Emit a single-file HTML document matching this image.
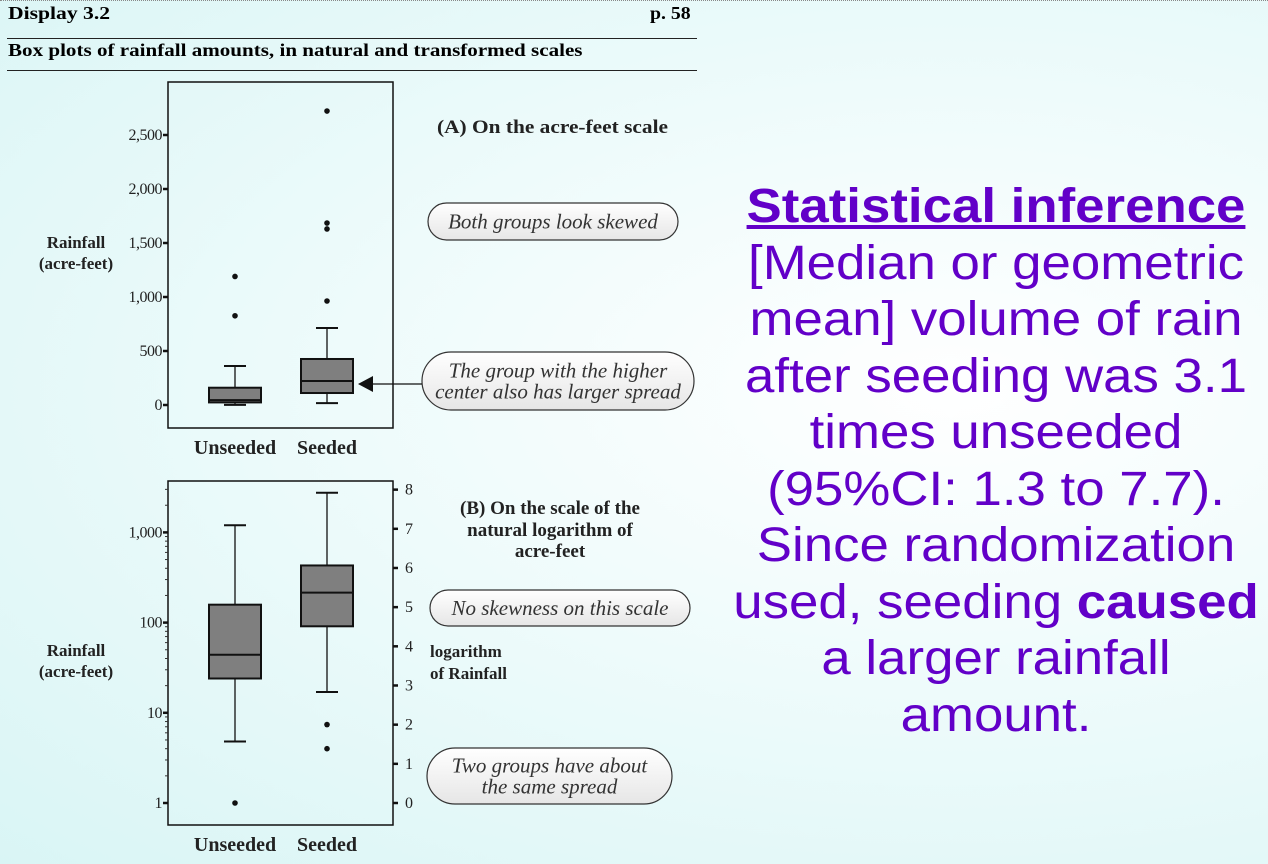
<!DOCTYPE html>
<html><head><meta charset="utf-8"><style>
html,body{margin:0;padding:0}
body{width:1268px;height:864px;overflow:hidden;position:relative;background:radial-gradient(ellipse at 75% 45%,#ffffff 0%,#eefbfb 45%,#d9f5f5 100%);font-family:"Liberation Serif",serif}
.t{position:absolute;white-space:nowrap;transform-origin:0 0}
.b{font-weight:bold}
#right{position:absolute;left:716px;top:179px;width:560px;text-align:center;font-family:"Liberation Sans",sans-serif;font-size:48px;line-height:56.5px;color:#6200c8}
#right div{white-space:nowrap;transform:scaleX(1.1)}
</style></head><body>
<div style="position:absolute;left:0;top:0;width:1268px;border-top:1px dotted #888"></div>
<div class="t b" style="left:8px;top:3px;font-size:18px;transform:scaleX(1.2)">Display 3.2</div>
<div class="t b" style="left:650px;top:3px;font-size:18px;transform:scaleX(1.1)">p. 58</div>
<div style="position:absolute;left:7px;top:38px;width:690px;border-top:1px solid #222"></div>
<div class="t b" style="left:8px;top:40px;font-size:18px;transform:scaleX(1.17)">Box plots of rainfall amounts, in natural and transformed scales</div>
<div style="position:absolute;left:7px;top:70px;width:690px;border-top:1px solid #222"></div>

<svg id="chart" width="1268" height="864" style="position:absolute;left:0;top:0" font-family="Liberation Serif, serif">
<defs><linearGradient id="pill" x1="0" y1="0" x2="0" y2="1"><stop offset="0" stop-color="#ffffff"/><stop offset="1" stop-color="#e6e6e6"/></linearGradient></defs>
<g id="gA"></g><g id="gB"></g><g id="ann"></g>
</svg>

<div id="right">
<div style="font-weight:bold;text-decoration:underline">Statistical inference</div>
<div>[Median or geometric</div>
<div>mean] volume of rain</div>
<div>after seeding was 3.1</div>
<div>times unseeded</div>
<div>(95%CI: 1.3 to 7.7).</div>
<div>Since randomization</div>
<div>used, seeding <b>caused</b></div>
<div>a larger rainfall</div>
<div>amount.</div>
</div>

<script>
const groups = ["Unseeded","Seeded"];
// panel A (acre-feet): [lowWhisker, q1, median, q3, highWhisker]
const statsA = [[1, 24, 45, 160, 361],[17, 111, 222, 426, 713]];
const outliersA = [[826, 1190],[963, 1630, 1685, 2722]];
const ticksA = [0,500,1000,1500,2000,2500];
const tickLabelsA = ["0","500","1,000","1,500","2,000","2,500"];
// panel B (log scale)
const statsB = [[4.8, 24, 44, 158, 1200],[17, 91, 215, 430, 2750]];
const outliersB = [[1],[4.0, 7.4]];
const ticksB = [1,10,100,1000];
const tickLabelsB = ["1","10","100","1,000"];
const lnTicks = [0,1,2,3,4,5,6,7,8];

const NS="http://www.w3.org/2000/svg";
function mk(parent,tag,attrs,txt){const e=document.createElementNS(NS,tag);for(const k in attrs)e.setAttribute(k,attrs[k]);if(txt!==undefined)e.textContent=txt;parent.appendChild(e);return e;}
const xPos = i => 235 + i*92;
const yA = v => 405 - v*0.108;
const yB = v => 803 - Math.log10(v)*90.2;
const yLn = v => 803 - v*39.17;

function panel(g, top, bottom, stats, outs, yf, ticks, labels, pname, ty){
  const f=mk(g,'rect',{x:168,y:top,width:225,height:bottom-top,fill:'none',stroke:'#111','stroke-width':1.5});
  
  
  ticks.forEach((t,i)=>{
    const y=yf(t);
    const tk=mk(g,'line',{x1:163,x2:168,y1:y,y2:y,stroke:'#111','stroke-width':2.5});
    
    
    const tl=mk(g,'text',{x:162,y:y+5,'text-anchor':'end','font-size':16,fill:'#222','letter-spacing':'-0.5'},labels[i]);
    
    
  });
  stats.forEach((s,i)=>{
    const cx=xPos(i), w=26;
    const grp=mk(g,'g',{});
    
    
    mk(grp,'line',{x1:cx,x2:cx,y1:yf(s[0]),y2:yf(s[4]),stroke:'#111','stroke-width':1.3});
    mk(grp,'line',{x1:cx-11,x2:cx+11,y1:yf(s[0]),y2:yf(s[0]),stroke:'#111','stroke-width':2});
    mk(grp,'line',{x1:cx-11,x2:cx+11,y1:yf(s[4]),y2:yf(s[4]),stroke:'#111','stroke-width':2});
    mk(grp,'rect',{x:cx-w,y:yf(s[3]),width:2*w,height:yf(s[1])-yf(s[3]),fill:'#7f7f7f',stroke:'#111','stroke-width':2});
    mk(grp,'line',{x1:cx-w,x2:cx+w,y1:yf(s[2]),y2:yf(s[2]),stroke:'#111','stroke-width':2});
    outs[i].forEach(o=>{
      const d=mk(g,'circle',{cx:cx,cy:yf(o),r:2.8,fill:'#111'});
      
      
    });
    const xl=mk(g,'text',{x:cx,y:bottom+26,'text-anchor':'middle','font-size':20,'font-weight':'bold',fill:'#222'},groups[i]);
    
    
  });
  const t1=mk(g,'text',{x:76,y:ty,'text-anchor':'middle','font-size':17,'font-weight':'bold',fill:'#222'},'Rainfall');
  
  
  const t2=mk(g,'text',{x:76,y:ty+21,'text-anchor':'middle','font-size':17,'font-weight':'bold',fill:'#222'},'(acre-feet)');
  
  
}
const gA=document.getElementById('gA'), gB=document.getElementById('gB');
panel(gA,82,428,statsA,outliersA,yA,ticksA,tickLabelsA,'a',248);
panel(gB,481,825,statsB,outliersB,yB,ticksB,tickLabelsB,'b',656);
// minor log ticks
for(let d=0; d<4; d++){ for(let m=2;m<=9;m++){ const v=m*Math.pow(10,d); if(v>3000) continue;
  const mt=mk(gB,'line',{x1:165,x2:168,y1:yB(v),y2:yB(v),stroke:'#333','stroke-width':1});
  
  
}}
// right ln axis
lnTicks.forEach(t=>{
  const y=yLn(t);
  const tk=mk(gB,'line',{x1:393,x2:398,y1:y,y2:y,stroke:'#111','stroke-width':2.5});
  
  
  const tl=mk(gB,'text',{x:405,y:y+5,'font-size':16,fill:'#222'},String(t));
  
  
});

const ann=document.getElementById('ann');
function txt(x,y,s,size,extra,name){const e=mk(ann,'text',Object.assign({x:x,y:y,'font-size':size,fill:'#222'},extra||{}),s);
  
  return e;}
txt(437,133,'(A) On the acre-feet scale',19,{'font-weight':'bold',textLength:231,lengthAdjust:'spacingAndGlyphs'},'panel-a-title');
txt(550,514,'(B) On the scale of the',19,{'font-weight':'bold','text-anchor':'middle'},'panel-b-title');
txt(550,536,'natural logarithm of',19,{'font-weight':'bold','text-anchor':'middle'},'panel-b-title');
txt(550,557,'acre-feet',19,{'font-weight':'bold','text-anchor':'middle'},'panel-b-title');
txt(430,657,'logarithm',17,{'font-weight':'bold'},'ln-axis-title');
txt(430,679,'of Rainfall',17,{'font-weight':'bold'},'ln-axis-title');
function pill(x,y,w,h,lines,name){
  const r=mk(ann,'rect',{x:x,y:y,width:w,height:h,rx:h/2,ry:h/2,fill:'url(#pill)',stroke:'#333','stroke-width':1.2});
  
  
  const n=lines.length;
  lines.forEach((l,i)=>{const t=mk(ann,'text',{x:x+w/2,y:y+h/2+7+(i-(n-1)/2)*21,'text-anchor':'middle','font-size':21,'font-style':'italic',fill:'#333'},l);
    
    });
}
pill(428,203,250,37,['Both groups look skewed'],'callout-skewed');
pill(422,352,272,58,['The group with the higher','center also has larger spread'],'callout-spread');
pill(430,590,260,36,['No skewness on this scale'],'callout-no-skew');
pill(427,748,245,56,['Two groups have about','the same spread'],'callout-same-spread');
const al=mk(ann,'line',{x1:372,x2:422,y1:384,y2:384,stroke:'#111','stroke-width':1.2});


const ah=mk(ann,'polygon',{points:'358,384 373,376 373,392',fill:'#111'});


</script>
</body></html>
